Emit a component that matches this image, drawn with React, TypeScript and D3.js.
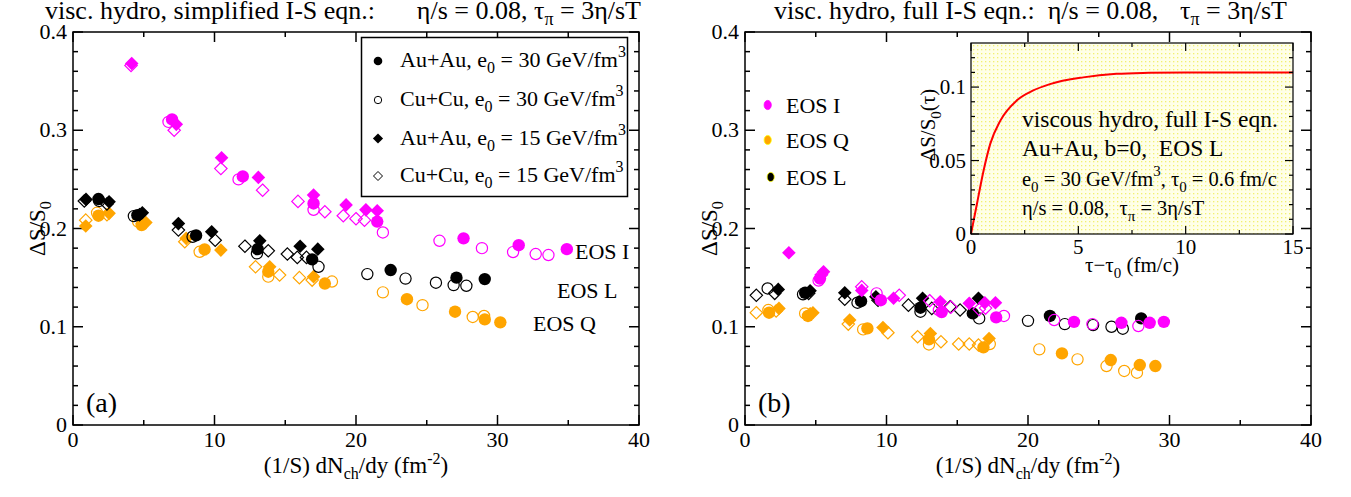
import React from 'react';
import * as d3 from 'd3';

type Pt = [number, number];

// ---------------- Panel (a): simplified I-S ----------------
// EOS I (magenta)
const a_I_AuAu30: Pt[] = [[7.0, 0.311], [12.0, 0.253], [17.0, 0.2255], [21.5, 0.207], [27.6, 0.19], [31.5, 0.183], [34.9, 0.179]];
const a_I_CuCu30: Pt[] = [[6.75, 0.3085], [11.7, 0.25], [17.0, 0.219], [21.9, 0.196], [25.9, 0.1875], [28.9, 0.18], [31.1, 0.176], [32.7, 0.174], [33.6, 0.173]];
const a_I_AuAu15: Pt[] = [[4.15, 0.368], [7.3, 0.306], [10.5, 0.272], [13.1, 0.252], [17.0, 0.234], [19.3, 0.224], [20.7, 0.219], [21.5, 0.218]];
const a_I_CuCu15: Pt[] = [[4.1, 0.366], [7.15, 0.3], [10.45, 0.261], [13.4, 0.239], [15.9, 0.2276], [17.8, 0.217], [19.1, 0.213], [20.0, 0.21], [20.6, 0.2085]];
// EOS L (black)
const a_L_AuAu30: Pt[] = [[1.8, 0.23], [4.55, 0.2136], [8.7, 0.193], [13.05, 0.179], [16.9, 0.1686], [22.45, 0.1577], [27.1, 0.15], [29.1, 0.1485]];
const a_L_CuCu30: Pt[] = [[1.85, 0.228], [4.3, 0.2126], [8.45, 0.1916], [13.0, 0.1747], [17.35, 0.161], [20.8, 0.1536], [23.5, 0.149], [25.65, 0.1448], [26.9, 0.1424], [27.8, 0.1417]];
const a_L_AuAu15: Pt[] = [[0.92, 0.2296], [2.55, 0.2272], [4.9, 0.216], [7.45, 0.205], [9.8, 0.1967], [13.2, 0.1875], [16.05, 0.182], [17.3, 0.179]];
const a_L_CuCu15: Pt[] = [[0.8, 0.228], [2.4, 0.225], [4.7, 0.214], [7.45, 0.1984], [10.05, 0.188], [12.15, 0.182], [13.8, 0.1773], [15.15, 0.174], [15.85, 0.1706], [16.5, 0.1706]];
// EOS Q (orange)
const a_Q_AuAu30: Pt[] = [[1.8, 0.213], [4.85, 0.2035], [9.3, 0.1787], [13.8, 0.156], [17.8, 0.144], [23.6, 0.128], [27.0, 0.1153], [29.1, 0.1075], [30.2, 0.1045]];
const a_Q_CuCu30: Pt[] = [[1.7, 0.216], [4.6, 0.207], [8.95, 0.1763], [13.8, 0.151], [18.3, 0.146], [21.9, 0.135], [24.7, 0.122], [28.25, 0.11], [29.05, 0.111]];
const a_Q_AuAu15: Pt[] = [[0.9, 0.2025], [2.55, 0.2154], [5.15, 0.206], [8.0, 0.19], [10.45, 0.178], [13.9, 0.161], [17.0, 0.151]];
const a_Q_CuCu15: Pt[] = [[0.9, 0.2085], [2.4, 0.214], [4.9, 0.205], [7.9, 0.1865], [12.9, 0.161], [14.6, 0.1526], [16.0, 0.15], [16.9, 0.1475]];

// ---------------- Panel (b): full I-S ----------------
const b_I_AuAu30: Pt[] = [[5.3, 0.149], [9.6, 0.127], [13.9, 0.115], [17.75, 0.1095], [23.25, 0.105], [26.6, 0.104], [28.6, 0.104], [29.6, 0.105]];
const b_I_CuCu30: Pt[] = [[5.2, 0.147], [9.3, 0.134], [13.7, 0.117], [18.3, 0.111], [21.85, 0.1068], [24.55, 0.1027], [27.8, 0.1007]];
const b_I_AuAu15: Pt[] = [[3.1, 0.1753], [5.55, 0.156], [8.25, 0.137], [10.5, 0.129], [13.8, 0.1255], [15.85, 0.1238], [16.95, 0.1245], [17.7, 0.1245]];
const b_I_CuCu15: Pt[] = [[5.4, 0.153], [8.25, 0.1407], [10.9, 0.132], [13.05, 0.1265], [14.55, 0.12], [16.55, 0.1177], [17.0, 0.119]];
const b_L_AuAu30: Pt[] = [[4.25, 0.1346], [8.2, 0.126], [12.4, 0.1194], [16.1, 0.1136], [21.55, 0.111], [28.0, 0.1085]];
const b_L_CuCu30: Pt[] = [[1.6, 0.139], [4.1, 0.133], [7.95, 0.1245], [12.4, 0.1153], [16.55, 0.1085], [20.0, 0.106], [22.6, 0.1027], [24.6, 0.1017], [25.9, 0.1], [26.7, 0.098]];
const b_L_AuAu15: Pt[] = [[2.35, 0.138], [4.6, 0.1366], [7.05, 0.1346], [9.25, 0.1305], [12.55, 0.129], [16.5, 0.129]];
const b_L_CuCu15: Pt[] = [[0.8, 0.132], [2.1, 0.134], [4.5, 0.134], [7.05, 0.128], [9.4, 0.127], [11.55, 0.122], [13.2, 0.1187], [14.5, 0.1204], [15.2, 0.117]];
const b_Q_AuAu30: Pt[] = [[1.7, 0.1143], [4.45, 0.111], [8.65, 0.0983], [13.0, 0.0871], [16.85, 0.079], [22.4, 0.0729], [25.85, 0.0661], [27.9, 0.061], [29.0, 0.06]];
const b_Q_CuCu30: Pt[] = [[1.65, 0.117], [4.25, 0.1136], [8.35, 0.0973], [13.0, 0.082], [17.3, 0.0824], [20.8, 0.077], [23.5, 0.0668], [25.55, 0.06], [26.8, 0.055], [27.7, 0.0532]];
const b_Q_AuAu15: Pt[] = [[2.4, 0.1187], [4.8, 0.1143], [7.4, 0.1068], [9.75, 0.0993], [13.1, 0.0932], [17.25, 0.088]];
const b_Q_CuCu15: Pt[] = [[0.8, 0.1143], [2.2, 0.116], [4.6, 0.113], [7.3, 0.1027], [10.1, 0.0939], [12.2, 0.0898], [13.85, 0.0847], [15.1, 0.0824], [15.85, 0.0824], [16.5, 0.0814]];

// ---------------- Inset: dS/S0 vs tau - tau0 ----------------
const insetTau = [0, 0.28, 0.59, 0.9, 1.36, 2.14, 2.9, 3.68, 5.23, 6.78, 8.3, 10, 12, 15];
const insetDS = [0, 0.0208, 0.0434, 0.0615, 0.077, 0.091, 0.0977, 0.102, 0.1066, 0.109, 0.1097, 0.11, 0.11, 0.11];

// ---------------- ticks ----------------
const xMajor = [0, 10, 20, 30, 40];
const xMinor = [5, 15, 25, 35];
const yMajor = [0, 0.1, 0.2, 0.3, 0.4];
const yMajorLabels = ['0', '0.1', '0.2', '0.3', '0.4'];
const yMinor = [0.02, 0.04, 0.06, 0.08, 0.12, 0.14, 0.16, 0.18, 0.22, 0.24, 0.26, 0.28, 0.32, 0.34, 0.36, 0.38];
const insXMajor = [0, 5, 10, 15];
const insXMinor = [2.5, 7.5, 12.5];
const insYMajor = [0, 0.05, 0.1];
const insYMajorLabels = ['0', '0.05', '0.1'];
const insYMinor = [0.01, 0.02, 0.03, 0.04, 0.06, 0.07, 0.08, 0.09, 0.11, 0.12];

const MAG = '#ff00ff';
const ORA = '#ffa500';
const BLK = '#000000';
const FONT = '"Liberation Serif", "Times New Roman", Times, serif';

type Shape = 'circle' | 'diamond';
interface Series { data: Pt[]; color: string; shape: Shape; filled: boolean; }

function mk(I: Pt[][], L: Pt[][], Q: Pt[][]): Series[] {
  const out: Series[] = [];
  const groups: [Pt[][], string][] = [[Q, ORA], [L, BLK], [I, MAG]];
  for (const [g, c] of groups) {
    out.push({ data: g[3], color: c, shape: 'diamond', filled: false });
    out.push({ data: g[2], color: c, shape: 'diamond', filled: true });
    out.push({ data: g[1], color: c, shape: 'circle', filled: false });
    out.push({ data: g[0], color: c, shape: 'circle', filled: true });
  }
  return out;
}

const seriesA = mk([a_I_AuAu30, a_I_CuCu30, a_I_AuAu15, a_I_CuCu15], [a_L_AuAu30, a_L_CuCu30, a_L_AuAu15, a_L_CuCu15], [a_Q_AuAu30, a_Q_CuCu30, a_Q_AuAu15, a_Q_CuCu15]);
const seriesB = mk([b_I_AuAu30, b_I_CuCu30, b_I_AuAu15, b_I_CuCu15], [b_L_AuAu30, b_L_CuCu30, b_L_AuAu15, b_L_CuCu15], [b_Q_AuAu30, b_Q_CuCu30, b_Q_AuAu15, b_Q_CuCu15]);

function Marker({ shape, filled, color, cx, cy, r, sw = 1.2 }: { shape: Shape; filled: boolean; color: string; cx: number; cy: number; r: number; sw?: number }) {
  if (shape === 'circle') {
    return <circle cx={cx} cy={cy} r={filled ? r : r - 0.6} fill={filled ? color : 'none'} stroke={color} strokeWidth={filled ? 0 : sw} />;
  }
  const s = filled ? r + 0.6 : r;
  const d = `M${cx},${cy - s}L${cx + s},${cy}L${cx},${cy + s}L${cx - s},${cy}Z`;
  return <path d={d} fill={filled ? color : 'none'} stroke={color} strokeWidth={filled ? 0 : sw} />;
}

interface Geom { left: number; right: number; top: number; bottom: number; }

function Frame({ g, x, y, xMaj, xMin, yMaj, yMin, maj, min, sw }: any) {
  const lines: any[] = [];
  let k = 0;
  for (const v of xMaj) {
    const px = x(v);
    lines.push(<line key={k++} x1={px} x2={px} y1={g.bottom} y2={g.bottom - maj} />);
    lines.push(<line key={k++} x1={px} x2={px} y1={g.top} y2={g.top + maj} />);
  }
  for (const v of xMin) {
    const px = x(v);
    lines.push(<line key={k++} x1={px} x2={px} y1={g.bottom} y2={g.bottom - min} />);
    lines.push(<line key={k++} x1={px} x2={px} y1={g.top} y2={g.top + min} />);
  }
  for (const v of yMaj) {
    const py = y(v);
    lines.push(<line key={k++} x1={g.left} x2={g.left + maj} y1={py} y2={py} />);
    lines.push(<line key={k++} x1={g.right} x2={g.right - maj} y1={py} y2={py} />);
  }
  for (const v of yMin) {
    const py = y(v);
    lines.push(<line key={k++} x1={g.left} x2={g.left + min} y1={py} y2={py} />);
    lines.push(<line key={k++} x1={g.right} x2={g.right - min} y1={py} y2={py} />);
  }
  return (
    <g stroke="#000" strokeWidth={sw} fill="none">
      {lines}
      <rect x={g.left} y={g.top} width={g.right - g.left} height={g.bottom - g.top} />
    </g>
  );
}

function Panel({ g, series, tag }: { g: Geom; series: Series[]; tag: string }) {
  const x = d3.scaleLinear().domain([0, 40]).range([g.left, g.right]);
  const y = d3.scaleLinear().domain([0, 0.4]).range([g.bottom, g.top]);
  const cx = (g.left + g.right) / 2;
  return (
    <g>
      <Frame g={g} x={x} y={y} xMaj={xMajor} xMin={xMinor} yMaj={yMajor} yMin={yMinor} maj={10} min={5} sw={1.5} />
      <g>
        {series.map((s, i) => (
          <g key={i}>
            {s.data.map((p, j) => (
              <Marker key={j} shape={s.shape} filled={s.filled} color={s.color} cx={x(p[0])} cy={y(p[1])} r={6.2} />
            ))}
          </g>
        ))}
      </g>
      <g fontFamily={FONT} fontSize={22} fill="#000">
        {xMajor.map((v) => (
          <text key={'xl' + v} x={x(v)} y={g.bottom + 22} textAnchor="middle">{v}</text>
        ))}
        {yMajor.map((v, i) => (
          <text key={'yl' + v} x={g.left - 6} y={y(v) + 7} textAnchor="end">{yMajorLabels[i]}</text>
        ))}
      </g>
      <text x={cx} y={g.bottom + 48} textAnchor="middle" fontFamily={FONT} fontSize={23}>
        (1/S) dN<tspan dy={6} fontSize={16}>ch</tspan><tspan dy={-6}>/dy (fm</tspan><tspan dy={-9} fontSize={16}>-2</tspan><tspan dy={9}>)</tspan>
      </text>
      <text transform={`translate(${g.left - 28},${y(0.2)}) rotate(-90)`} textAnchor="middle" fontFamily={FONT} fontSize={23}>
        ΔS/S<tspan dy={6} fontSize={16}>0</tspan>
      </text>
      <text x={g.left + 13} y={g.bottom - 13} fontFamily={FONT} fontSize={28}>{tag}</text>
    </g>
  );
}

function LegendA() {
  const rows: { shape: Shape; filled: boolean; sys: string; e0: string }[] = [
    { shape: 'circle', filled: true, sys: 'Au+Au', e0: '30' },
    { shape: 'circle', filled: false, sys: 'Cu+Cu', e0: '30' },
    { shape: 'diamond', filled: true, sys: 'Au+Au', e0: '15' },
    { shape: 'diamond', filled: false, sys: 'Cu+Cu', e0: '15' },
  ];
  const base = [67, 106, 144.5, 182];
  return (
    <g>
      <rect x={361.5} y={37.5} width={266} height={159} fill="#fff" stroke="#000" strokeWidth={1.5} />
      {rows.map((r, i) => (
        <g key={i}>
          <Marker shape={r.shape} filled={r.filled} color="#000" cx={378} cy={base[i] - 6} r={r.shape === 'circle' ? 4.3 : 4.5} sw={1} />
          <text x={400} y={base[i]} fontFamily={FONT} fontSize={22}>
            {r.sys}, e<tspan dy={6} fontSize={16}>0</tspan><tspan dy={-6}> = {r.e0} GeV/fm</tspan><tspan dy={-10} fontSize={16}>3</tspan>
          </text>
        </g>
      ))}
    </g>
  );
}

function LegendB() {
  const items = [
    { c: MAG, s: MAG, t: 'EOS I', cx: 767.7, cy: 105 },
    { c: ORA, s: '#ffff00', t: 'EOS Q', cx: 767.7, cy: 140 },
    { c: BLK, s: '#ffff00', t: 'EOS L', cx: 770.7, cy: 177 },
  ];
  return (
    <g>
      {items.map((it, i) => (
        <g key={i}>
          <ellipse cx={it.cx} cy={it.cy} rx={3.6} ry={4.6} fill={it.c} stroke={it.s} strokeWidth={0.8} />
          <text x={786} y={it.cy + 8} fontFamily={FONT} fontSize={22}>{it.t}</text>
        </g>
      ))}
    </g>
  );
}

function Inset() {
  const g: Geom = { left: 971, right: 1293, top: 43, bottom: 234 };
  const x = d3.scaleLinear().domain([0, 15]).range([g.left, g.right]);
  const y = d3.scaleLinear().domain([0, 0.13]).range([g.bottom, g.top]);
  const pts: Pt[] = insetTau.map((t, i) => [t, insetDS[i]]);
  const line = d3.line<Pt>().x((d) => x(d[0])).y((d) => y(d[1])).curve(d3.curveMonotoneX);
  return (
    <g>
      <defs>
        <pattern id="dots" width={4} height={4} patternUnits="userSpaceOnUse">
          <rect width={4} height={4} fill="#ffffe8" />
          <rect x={1} y={1} width={1.3} height={1.3} fill="#f2f070" />
        </pattern>
      </defs>
      <rect x={g.left} y={g.top} width={g.right - g.left} height={g.bottom - g.top} fill="url(#dots)" />
      <path d={line(pts) || ''} fill="none" stroke="#ff0000" strokeWidth={2} />
      <Frame g={g} x={x} y={y} xMaj={insXMajor} xMin={insXMinor} yMaj={insYMajor} yMin={insYMinor} maj={8} min={4} sw={1.2} />
      <g fontFamily={FONT} fontSize={21}>
        {insXMajor.map((v) => (
          <text key={'ix' + v} x={x(v)} y={g.bottom + 20} textAnchor="middle">{v}</text>
        ))}
        {insYMajor.map((v, i) => (
          <text key={'iy' + v} x={g.left - 5} y={y(v) + 7} textAnchor="end">{insYMajorLabels[i]}</text>
        ))}
      </g>
      <text x={1132} y={272} textAnchor="middle" fontFamily={FONT} fontSize={21}>
        τ−τ<tspan dy={6} fontSize={15}>0</tspan><tspan dy={-6}> (fm/c)</tspan>
      </text>
      <text transform={`translate(935,125) rotate(-90)`} textAnchor="middle" fontFamily={FONT} fontSize={21}>
        ΔS/S<tspan dy={6} fontSize={15}>0</tspan><tspan dy={-6}>(τ)</tspan>
      </text>
      <g fontFamily={FONT} fontSize={23.5}>
        <text x={1022} y={127}>viscous hydro, full I-S eqn.</text>
        <text x={1022} y={156}>Au+Au, b=0,{'\u00a0'} EOS L</text>
        <text x={1022} y={186} fontSize={20.5}>
          e<tspan dy={6} fontSize={15}>0</tspan><tspan dy={-6}> = 30 GeV/fm</tspan><tspan dy={-10} fontSize={15}>3</tspan><tspan dy={10}>, τ</tspan><tspan dy={6} fontSize={15}>0</tspan><tspan dy={-6}> = 0.6 fm/c</tspan>
        </text>
        <text x={1022} y={215} fontSize={20.5}>
          η/s = 0.08,{'\u00a0'} τ<tspan dy={6} fontSize={15}>π</tspan><tspan dy={-6}> = 3η/sT</tspan>
        </text>
      </g>
    </g>
  );
}

export default function App() {
  const gA: Geom = { left: 73, right: 639, top: 32, bottom: 425 };
  const gB: Geom = { left: 745, right: 1311, top: 32, bottom: 425 };
  return (
    <svg width={1351} height={497} style={{ position: 'absolute', left: 0, top: 0, background: '#fff' }} fontFamily={FONT}>
      <rect width={1351} height={497} fill="#fff" />
      <text x={45} y={19} fontSize={26}>visc. hydro, simplified I-S eqn.:</text>
      <text x={641} y={19} fontSize={26} textAnchor="end">
        η/s = 0.08, τ<tspan dy={6} fontSize={18}>π</tspan><tspan dy={-6}> = 3η/sT</tspan>
      </text>
      <text x={774} y={19} fontSize={26}>visc. hydro, full I-S eqn.:{'\u00a0'} η/s = 0.08,</text>
      <text x={1287} y={19} fontSize={26} textAnchor="end">
        τ<tspan dy={6} fontSize={18}>π</tspan><tspan dy={-6}> = 3η/sT</tspan>
      </text>
      <Panel g={gA} series={seriesA} tag="(a)" />
      <LegendA />
      <g fontFamily={FONT} fontSize={22}>
        <text x={575} y={259}>EOS I</text>
        <text x={557} y={298}>EOS L</text>
        <text x={533} y={331}>EOS Q</text>
      </g>
      <Panel g={gB} series={seriesB} tag="(b)" />
      <LegendB />
      <Inset />
    </svg>
  );
}
